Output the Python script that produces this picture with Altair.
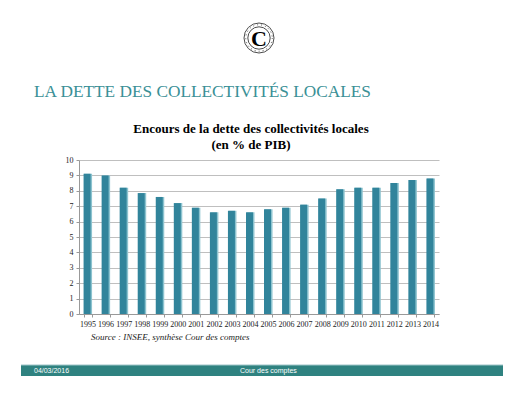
import altair as alt
import pandas as pd

years = [str(y) for y in range(1995, 2015)]
values = [9.1, 9.0, 8.2, 7.85, 7.6, 7.2, 6.9, 6.6, 6.7, 6.6,
          6.8, 6.9, 7.1, 7.5, 8.1, 8.2, 8.2, 8.5, 8.7, 8.8]

df = pd.DataFrame({"year": years, "value": values})

X0, Y0 = 79, 160  # page position of plot origin
W, H = 360, 154
TEAL = "#31849b"
SERIF = "Liberation Serif, Times New Roman, serif"


def px(x):
    return x - X0


def py(y):
    return y - Y0


xenc = alt.X("year:N", sort=years, title=None,
             scale=alt.Scale(paddingInner=0.55, paddingOuter=0.25),
             axis=alt.Axis(labelAngle=0, labelFont=SERIF, labelFontSize=8,
                           labelColor="#222", tickBand="extent", tickSize=3,
                           tickColor="#999", domainColor="#999", labelPadding=3))
yenc = alt.Y("value:Q", title=None,
             scale=alt.Scale(domain=[0, 10], nice=False),
             axis=alt.Axis(values=list(range(0, 11)), labelFont=SERIF, labelFontSize=8,
                           labelColor="#222", gridColor="#bfbfbf", tickSize=3,
                           tickColor="#999", domainColor="#999", labelPadding=3))

base = alt.Chart(df)
light = base.mark_bar(width=8, xOffset=0.5, color="#8cc3cf").encode(x=xenc, y=yenc)
dark = base.mark_bar(width=7, xOffset=-0.5, color=TEAL).encode(x=xenc, y=yenc)

one = pd.DataFrame({"a": [0]})
ann = alt.Chart(one)


def text(t, x, y, **kw):
    return ann.mark_text(text=t, **kw).encode(x=alt.value(px(x)), y=alt.value(py(y)))


heading = text("LA DETTE DES COLLECTIVITÉS LOCALES", 34, 92, font=SERIF, fontSize=17.3,
               align="left", baseline="middle", color="#3a9096")
title1 = text("Encours de la dette des collectivités locales", 251, 129, font=SERIF,
              fontSize=13, fontWeight="bold", align="center", baseline="middle", color="#000")
title2 = text("(en % de PIB)", 251, 145, font=SERIF, fontSize=13, fontWeight="bold",
              align="center", baseline="middle", color="#000")
source = text("Source : INSEE, synthèse Cour des comptes", 91, 337, font=SERIF, fontSize=9,
              fontStyle="italic", align="left", baseline="middle", color="#222")

bar = ann.mark_rect(color="#2f8280").encode(
    x=alt.value(px(21)), x2=alt.value(px(503)), y=alt.value(py(365)), y2=alt.value(py(376)))
barline = ann.mark_rule(color="#9fc5c8", strokeWidth=1).encode(
    x=alt.value(px(21)), x2=alt.value(px(503)), y=alt.value(py(365)))
date = text("04/03/2016", 34, 370.5, font="Liberation Sans", fontSize=7, align="left",
            baseline="middle", color="#ffffff")
cour = text("Cour des comptes", 240, 370.5, font="Liberation Sans", fontSize=7, align="left",
            baseline="middle", color="#ffffff")

outer = ann.mark_point(shape="circle", size=900, filled=False, color="#000", strokeWidth=1).encode(
    x=alt.value(px(259)), y=alt.value(py(38)))
ring = ann.mark_point(shape="circle", size=700, filled=False, color="#000", strokeWidth=1,
                      strokeDash=[1, 3]).encode(x=alt.value(px(259)), y=alt.value(py(38)))
inner = ann.mark_point(shape="circle", size=500, filled=False, color="#000", strokeWidth=1).encode(
    x=alt.value(px(259)), y=alt.value(py(38)))
cbig = text("C", 259, 39, font=SERIF, fontSize=22, fontWeight="bold", align="center",
            baseline="middle", color="#000")

chart = alt.layer(light, dark, heading, title1, title2, source, bar, barline, date, cour,
                  outer, ring, inner, cbig).properties(
    width=W, height=H,
    padding={"left": X0 - 8, "top": Y0 - 8, "right": 512 - (X0 - 8) - W,
             "bottom": 380 - (Y0 - 8) - H},
    autosize=alt.AutoSizeParams(type="none"),
    background="#ffffff",
).configure_view(stroke=None)

chart.save("out.html", embed_options={"renderer": "svg", "actions": False})
